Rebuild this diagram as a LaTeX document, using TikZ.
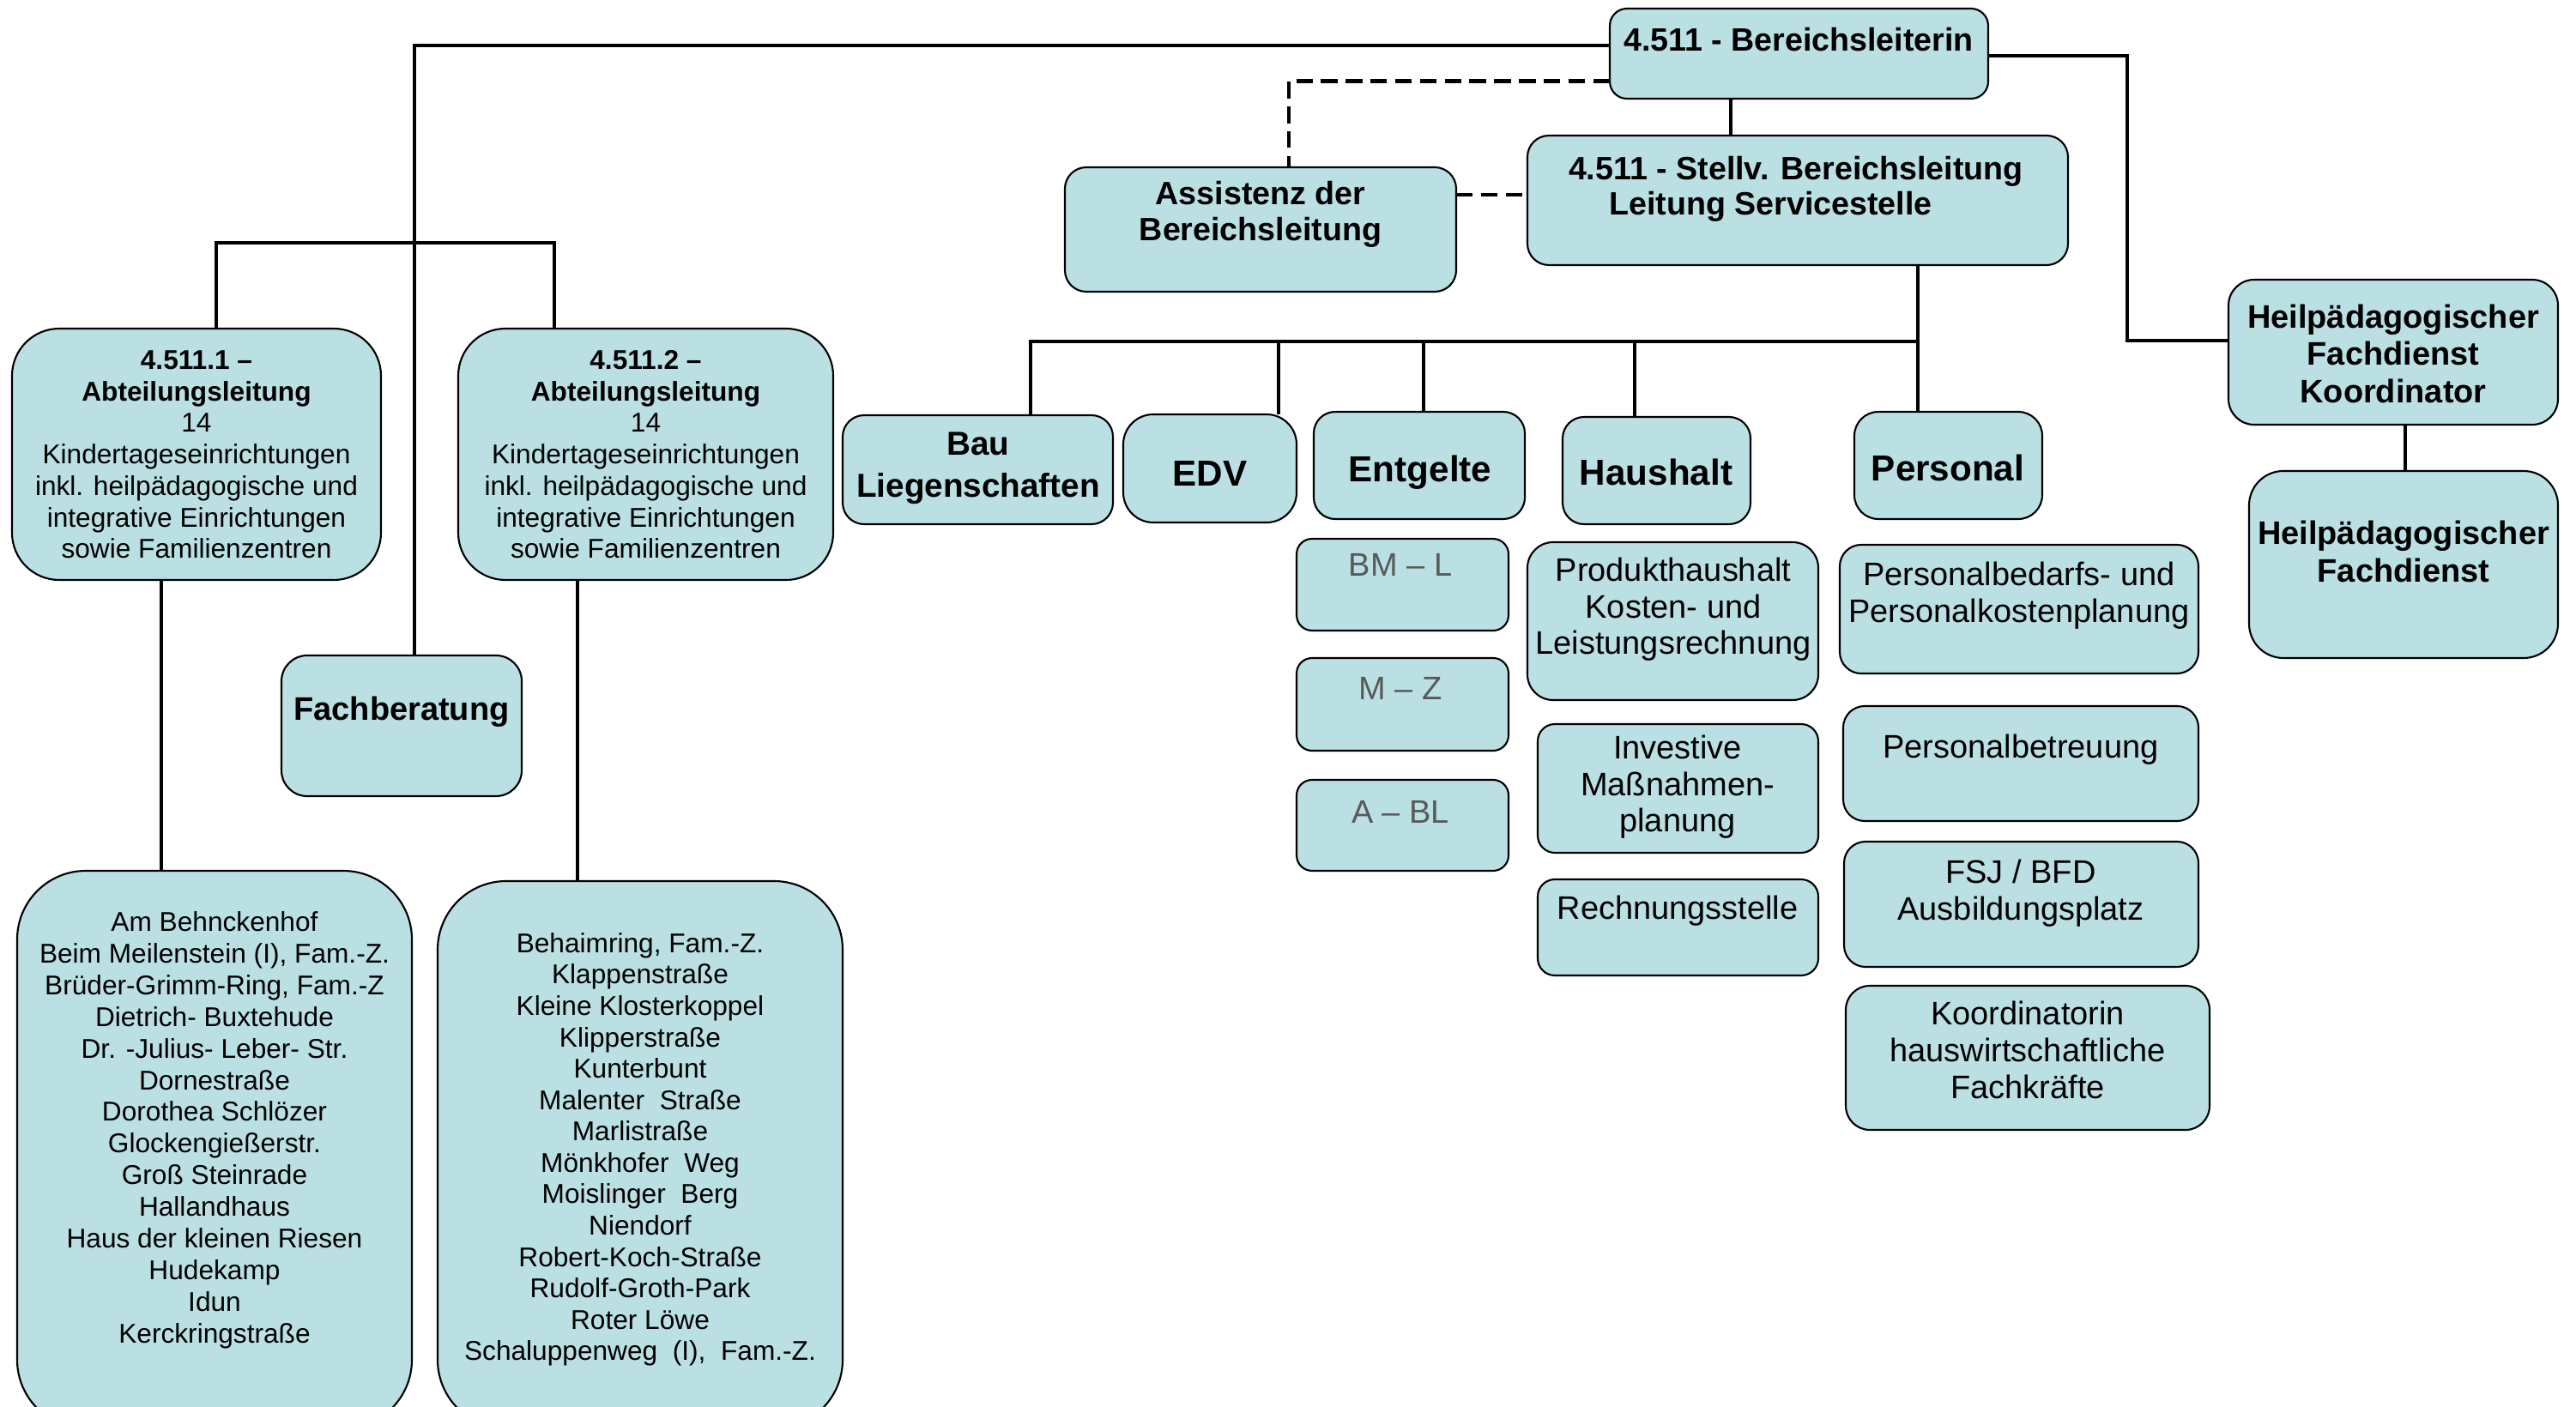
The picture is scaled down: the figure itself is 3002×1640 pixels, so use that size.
\documentclass[tikz,border=0pt]{standalone}
\usepackage{fontspec}
\setmainfont{Liberation Sans}
\definecolor{boxfill}{RGB}{187,224,227}
\definecolor{greytxt}{RGB}{89,89,89}
\newcommand{\obox}[6]{%
  \node[box, rounded corners=#6, minimum width={(#4-#2)*0.01cm}, minimum height={(#5-#3)*0.01cm}] (#1) at ({(#2+#4)/2},{(#3+#5)/2}) {};}
\newcommand{\fs}[2]{\fontsize{#1}{#2}\selectfont}
\begin{document}
\begin{tikzpicture}[x=0.01cm,y=-0.01cm,
  box/.style={draw=black, line width=0.6pt, fill=boxfill, rectangle, inner sep=0pt, outer sep=0pt},
  conn/.style={draw=black, line width=1.1pt},
  dashconn/.style={draw=black, line width=1.3pt, dash pattern=on 5.5pt off 2.7pt},
  lbl/.style={inner sep=0pt, outer sep=0pt, anchor=base},
  tb/.style={font=\fs{10.7}{12}\bfseries},
  tbig/.style={font=\fs{12}{14}\bfseries},
  tsm/.style={font=\fs{9}{10.45}},
  treg/.style={font=\fs{10.8}{12.1}},
  tgrey/.style={font=\fs{10.8}{12.1}, text=greytxt}]
\useasboundingbox (0,0) rectangle (3002,1640);
\fill[white] (0,0) rectangle (3002,1640);

% boxes
\obox{bl}{1876}{10}{2317}{115}{0.2cm}
\obox{st}{1780}{158}{2410}{309}{0.25cm}
\obox{as}{1241}{195}{1697}{340}{0.25cm}
\obox{hk}{2597}{326}{2981}{495}{0.3cm}
\obox{hf}{2621}{549}{2981}{767}{0.4cm}
\obox{a1}{14}{383}{444}{676}{0.55cm}
\obox{a2}{534}{383}{971}{676}{0.55cm}
\obox{fb}{328}{764}{608}{928}{0.3cm}
\obox{l1}{20}{1015}{480}{1665}{0.8cm}
\obox{l2}{510}{1027}{982}{1665}{0.8cm}
\obox{bau}{982}{484}{1297}{611}{0.25cm}
\obox{edv}{1309}{483}{1511}{609}{0.35cm}
\obox{ent}{1531}{480}{1777}{605}{0.25cm}
\obox{hh}{1821}{486}{2040}{611}{0.25cm}
\obox{per}{2161}{480}{2380}{605}{0.28cm}
\obox{bm}{1511}{628}{1758}{735}{0.18cm}
\obox{mz}{1511}{767}{1758}{875}{0.18cm}
\obox{abl}{1511}{909}{1758}{1015}{0.18cm}
\obox{ph}{1780}{632}{2119}{816}{0.3cm}
\obox{inv}{1792}{844}{2119}{994}{0.2cm}
\obox{rs}{1792}{1025}{2119}{1137}{0.2cm}
\obox{pb}{2144}{635}{2562}{785}{0.25cm}
\obox{pbt}{2148}{823}{2562}{957}{0.25cm}
\obox{fsj}{2149}{981}{2562}{1127}{0.25cm}
\obox{ko}{2151}{1149}{2575}{1317}{0.28cm}

% helper coordinates
\coordinate (kTop) at (483,53);
\coordinate (ka1) at (252,283);
\coordinate (ka2) at (646,283);
\coordinate (kl1) at (188,0);
\coordinate (kl2) at (673,0);
\coordinate (kbs) at (2017,0);
\coordinate (kper) at (2235,0);
\coordinate (kbus) at (1201,398);
\coordinate (kedv) at (1490,0);
\coordinate (kent) at (1659,0);
\coordinate (khh) at (1905,0);
\coordinate (kr) at (2479,65);
\coordinate (kr2) at (2479,397);
\coordinate (khf) at (2803,0);
\coordinate (kd) at (1502,94.5);
\coordinate (kd2) at (0,227);

% connectors
\draw[conn] (bl.west |- kTop) -| (fb.north -| kTop);
\draw[conn] (a1.north -| ka1) -- (ka1) -- (ka2) -- (a2.north -| ka2);
\draw[conn] (a1.south -| kl1) -- (l1.north -| kl1);
\draw[conn] (a2.south -| kl2) -- (l2.north -| kl2);
\draw[conn] (bl.south -| kbs) -- (st.north -| kbs);
\draw[conn] (st.south -| kper) -- (per.north -| kper);
\draw[conn] (bau.north -| kbus) -- (kbus) -- (kbus -| kper);
\draw[conn] (kbus -| kedv) -- (edv.north -| kedv);
\draw[conn] (kbus -| kent) -- (ent.north -| kent);
\draw[conn] (kbus -| khh) -- (hh.north -| khh);
\draw[conn] (bl.east |- kr) -| (kr2) -- (hk.west |- kr2);
\draw[conn] (hk.south -| khf) -- (hf.north -| khf);
\draw[dashconn] (bl.west |- kd) -| (as.north -| kd);
\draw[dashconn] (as.east |- kd2) -- (st.west |- kd2);

% texts
\node[lbl, tb] (tbl) at (2096,59.4) {4.511 - Bereichsleiterin};
\node[lbl, tb, anchor=base west, font=\fs{10.7}{11.7}\bfseries] (tst) at (1828,209.4)
  {\begin{tabular}[t]{@{}l@{}}4.511 - Stellv. Bereichsleitung\\\hspace*{13.4pt}Leitung Servicestelle\end{tabular}};
\node[lbl, tb] (tas) at (1469,238.4) {\begin{tabular}[t]{@{}c@{}}Assistenz der\\Bereichsleitung\end{tabular}};
\node[lbl, tb, font=\fs{10.8}{12.4}\bfseries] (thk) at (2789,382.4) {\begin{tabular}[t]{@{}c@{}}Heilpädagogischer\\Fachdienst\\Koordinator\end{tabular}};
\node[lbl, tb, font=\fs{10.8}{12.5}\bfseries] (thf) at (2801,634.4) {\begin{tabular}[t]{@{}c@{}}Heilpädagogischer\\Fachdienst\end{tabular}};
\node[lbl, tb, font=\fs{10.8}{12}\bfseries] (tfb) at (468,839.4) {Fachberatung};
\node[lbl, tsm] (ta1) at (229,430.4) {\begin{tabular}[t]{@{}c@{}}\textbf{4.511.1 –}\\\textbf{Abteilungsleitung}\\14\\Kindertageseinrichtungen\\inkl. heilpädagogische und\\integrative Einrichtungen\\sowie Familienzentren\end{tabular}};
\node[lbl, tsm] (ta2) at (752.5,430.4) {\begin{tabular}[t]{@{}c@{}}\textbf{4.511.2 –}\\\textbf{Abteilungsleitung}\\14\\Kindertageseinrichtungen\\inkl. heilpädagogische und\\integrative Einrichtungen\\sowie Familienzentren\end{tabular}};
\node[lbl, tsm, font=\fs{9}{10.5}] (tl1) at (250,1085.4) {\begin{tabular}[t]{@{}c@{}}Am Behnckenhof\\Beim Meilenstein (I), Fam.-Z.\\Brüder-Grimm-Ring, Fam.-Z\\Dietrich- Buxtehude\\Dr. -Julius- Leber- Str.\\Dornestraße\\Dorothea Schlözer\\Glockengießerstr.\\Groß Steinrade\\Hallandhaus\\Haus der kleinen Riesen\\Hudekamp\\Idun\\Kerckringstraße\end{tabular}};
\node[lbl, tsm, font=\fs{9}{10.4}] (tl2) at (746,1110.4) {\begin{tabular}[t]{@{}c@{}}Behaimring, Fam.-Z.\\Klappenstraße\\Kleine Klosterkoppel\\Klipperstraße\\Kunterbunt\\Malenter~ Straße\\Marlistraße\\Mönkhofer~ Weg\\Moislinger~ Berg\\Niendorf\\Robert-Koch-Straße\\Rudolf-Groth-Park\\Roter Löwe\\Schaluppenweg~ (I),~ Fam.-Z.\end{tabular}};
\node[lbl, font=\fs{11}{13.9}\bfseries] (tbau) at (1140,530.8) {\begin{tabular}[t]{@{}c@{}}Bau\\Liegenschaften\end{tabular}};
\node[lbl, tbig] (tedv) at (1410,566.9) {EDV};
\node[lbl, tbig] (tent) at (1655,561.5) {Entgelte};
\node[lbl, tbig] (thh) at (1930,565.9) {Haushalt};
\node[lbl, tbig] (tper) at (2270,560.4) {Personal};
\node[lbl, tgrey] (tbm) at (1632,672) {BM – L};
\node[lbl, tgrey] (tmz) at (1632,815.5) {M – Z};
\node[lbl, tgrey] (tabl) at (1632,959) {A – BL};
\node[lbl, treg] (tph) at (1950,677.5) {\begin{tabular}[t]{@{}c@{}}Produkthaushalt\\Kosten- und\\Leistungsrechnung\end{tabular}};
\node[lbl, treg] (tinv) at (1955,884.5) {\begin{tabular}[t]{@{}c@{}}Investive\\Maßnahmen-\\planung\end{tabular}};
\node[lbl, treg] (trs) at (1955,1071) {Rechnungsstelle};
\node[lbl, treg, font=\fs{10.8}{12.2}] (tpb) at (2353,682.5) {\begin{tabular}[t]{@{}c@{}}Personalbedarfs- und\\Personalkostenplanung\end{tabular}};
\node[lbl, treg] (tpbt) at (2355,883.5) {Personalbetreuung};
\node[lbl, treg, font=\fs{10.8}{12.2}] (tfsj) at (2355,1029.5) {\begin{tabular}[t]{@{}c@{}}FSJ / BFD\\Ausbildungsplatz\end{tabular}};
\node[lbl, treg, font=\fs{10.8}{12.2}] (tko) at (2363,1194.5) {\begin{tabular}[t]{@{}c@{}}Koordinatorin\\hauswirtschaftliche\\Fachkräfte\end{tabular}};
\end{tikzpicture}
\end{document}
